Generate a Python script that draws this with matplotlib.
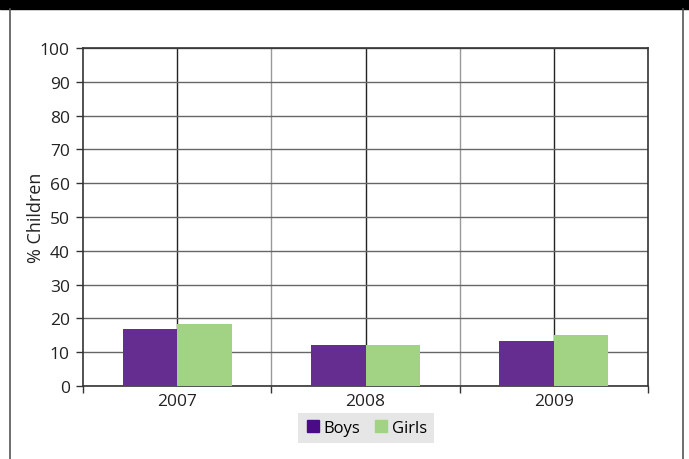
import matplotlib.pyplot as plt
import numpy as np
from matplotlib.patches import Rectangle
from matplotlib.lines import Line2D

years = ['2007', '2008', '2009']
boys = [16.8, 12.1, 13.3]
girls = [18.3, 12.1, 15.0]

purple = '#652D90'
green = '#A2D384'

fig = plt.figure(figsize=(6.89, 4.60), dpi=100)
ax = fig.add_axes([83/689, 1 - 387/460, 565/689, 338/460])

x = np.arange(len(years))
w = 0.29
ax.bar(x - w/2, boys, w, color=purple, zorder=3, label='Boys')
ax.bar(x + w/2, girls, w, color=green, zorder=3, label='Girls')

ax.set_xlim(-0.5, 2.5)
ax.set_ylim(0, 100)
ax.set_yticks(range(0, 101, 10))
ax.set_xticks([-0.5, 0.5, 1.5, 2.5])
ax.set_xticklabels([])
ax.set_xticks(x, minor=True)
ax.set_xticklabels(years, minor=True)
ax.tick_params(axis='x', which='major', length=5, width=1, color='#333333', direction='out')
ax.tick_params(axis='x', which='minor', length=0, pad=5)
ax.tick_params(axis='y', length=5, width=1, color='#333333', pad=4.5)

for lab in ax.get_yticklabels():
    lab.set_fontfamily('Open Sans')
    lab.set_fontsize(12.5)
    lab.set_color('#222222')
for lab in ax.get_xticklabels(minor=True):
    lab.set_fontfamily('Open Sans')
    lab.set_fontsize(12.5)
    lab.set_color('#222222')

ax.yaxis.grid(True, color='#666666', linewidth=1, zorder=1)
for xc in x:
    ax.axvline(xc, color='#222222', linewidth=1, zorder=1)
for xb in [0.5, 1.5]:
    ax.axvline(xb, color='#999999', linewidth=1, zorder=1)

for s in ax.spines.values():
    s.set_color('#333333')
    s.set_linewidth(1.2)

ax.set_ylabel('% Children', fontsize=13, family='Open Sans', color='#222222')
ax.yaxis.set_label_coords(-38/565, 0.5)

handles = [Line2D([], [], marker='s', linestyle='', markersize=9, color='#4B0A86'),
           Line2D([], [], marker='s', linestyle='', markersize=9, color=green)]
leg = fig.legend(handles, ['Boys', 'Girls'], loc='center', bbox_to_anchor=(366/689, 1 - 429/460),
                 ncol=2, frameon=True, facecolor='#E6E6E6', edgecolor='none', fancybox=False,
                 handletextpad=0.2, columnspacing=0.8, borderpad=0.4, handlelength=0.9,
                 prop={'family': 'Open Sans', 'size': 12})
leg.get_frame().set_alpha(1)

# black header band and side borders
fig.patches.append(Rectangle((0, 1 - 10/460), 1, 10/460, transform=fig.transFigure,
                             color='black', zorder=0))
fig.lines.append(Line2D([10/689, 10/689], [0, 1 - 10/460], transform=fig.transFigure,
                        color='#555555', linewidth=1.2))
fig.lines.append(Line2D([683/689, 683/689], [0, 1 - 10/460], transform=fig.transFigure,
                        color='#555555', linewidth=1.2))

fig.savefig('out.png', dpi=100)
